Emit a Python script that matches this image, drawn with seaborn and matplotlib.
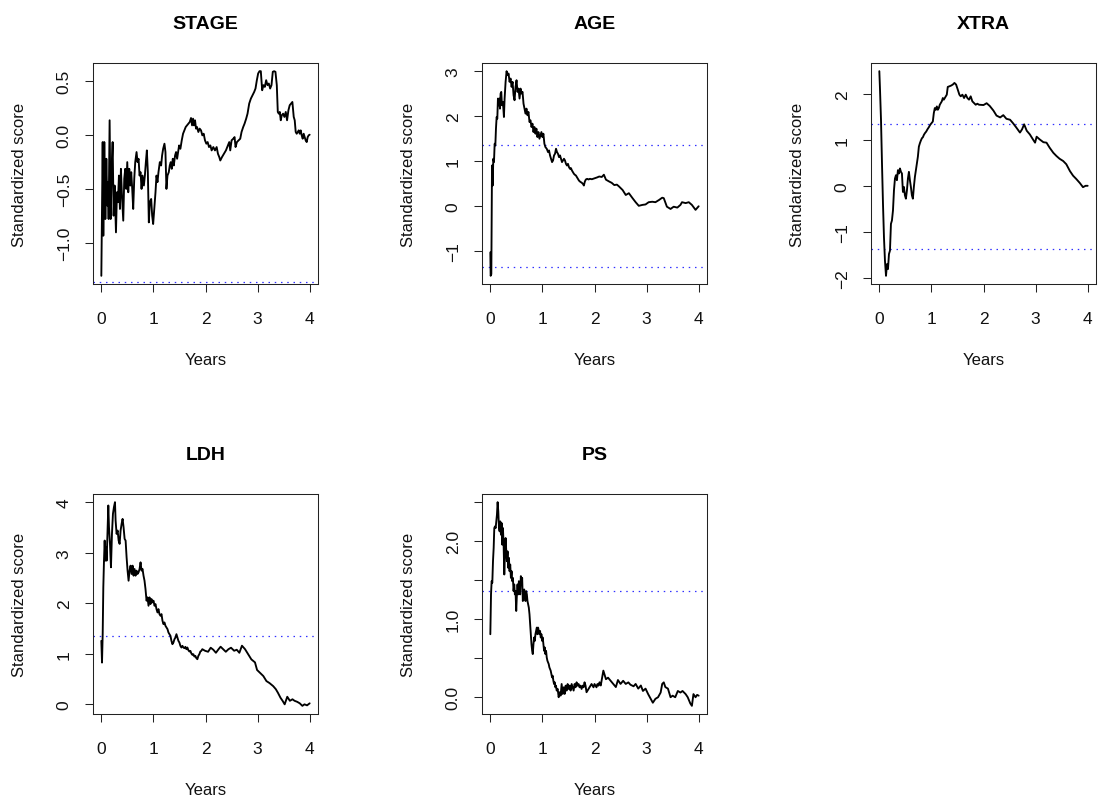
import matplotlib
matplotlib.use("Agg")
import matplotlib.pyplot as plt
import seaborn as sns
import pandas as pd

# ---------------- data ----------------
panel_titles = ["STAGE", "AGE", "XTRA", "LDH", "PS"]
crit_value = 1.358

stage_t = [0.000,0.026,0.038,0.057,0.077,0.096,0.115,0.128,0.140,0.159,
           0.179,0.198,0.217,0.236,0.255,0.281,0.300,0.319,0.338,0.357,
           0.376,0.396,0.421,0.440,0.459,0.478,0.498,0.517,0.536,0.555,
           0.574,0.593,0.612,0.632,0.651,0.676,0.695,0.715,0.734,0.753,
           0.772,0.791,0.817,0.836,0.855,0.874,0.893,0.912,0.931,0.957,
           0.976,0.995,1.021,1.040,1.059,1.078,1.097,1.123,1.148,1.167,
           1.187,1.212,1.231,1.250,1.270,1.295,1.314,1.333,1.352,1.372,
           1.391,1.416,1.435,1.455,1.474,1.493,1.518,1.544,1.569,1.595,
           1.620,1.646,1.671,1.697,1.722,1.742,1.761,1.780,1.799,1.818,
           1.837,1.863,1.888,1.914,1.939,1.965,1.990,2.016,2.041,2.067,
           2.093,2.118,2.150,2.182,2.214,2.239,2.265,2.284,2.316,2.354,
           2.392,2.431,2.456,2.475,2.501,2.533,2.558,2.577,2.603,2.635,
           2.667,2.692,2.724,2.750,2.781,2.807,2.839,2.871,2.903,2.935,
           2.960,2.986,3.011,3.037,3.062,3.088,3.113,3.139,3.165,3.190,
           3.216,3.241,3.267,3.292,3.317,3.343,3.369,3.388,3.407,3.426,
           3.445,3.464,3.490,3.515,3.541,3.566,3.592,3.617,3.643,3.668,
           3.694,3.713,3.732,3.751,3.770,3.790,3.809,3.828,3.847,3.866,
           3.885,3.904,3.923,3.943,3.962,3.981,4.000]
stage_v = [-1.302,-0.068,-0.932,-0.068,-0.778,-0.222,-0.654,-0.438,-0.778,0.133,
           -0.778,-0.315,-0.068,-0.747,-0.469,-0.901,-0.531,-0.623,-0.377,-0.685,
           -0.315,-0.562,-0.793,-0.407,-0.315,-0.500,-0.253,-0.531,-0.315,-0.469,
           -0.346,-0.500,-0.685,-0.407,-0.253,-0.160,-0.253,-0.222,-0.377,-0.346,
           -0.500,-0.377,-0.469,-0.377,-0.253,-0.145,-0.346,-0.809,-0.623,-0.593,
           -0.747,-0.824,-0.654,-0.531,-0.377,-0.438,-0.346,-0.253,-0.284,-0.191,
           -0.130,-0.083,-0.160,-0.500,-0.377,-0.346,-0.284,-0.253,-0.315,-0.222,
           -0.284,-0.191,-0.160,-0.222,-0.160,-0.099,-0.130,-0.052,0.009,0.040,
           0.071,0.086,0.102,0.117,0.154,0.086,0.148,0.086,0.133,0.056,
           0.071,0.025,0.056,0.040,-0.006,0.009,-0.052,-0.083,-0.068,-0.114,
           -0.099,-0.145,-0.114,-0.145,-0.114,-0.176,-0.207,-0.238,-0.207,-0.176,
           -0.145,-0.099,-0.068,-0.145,-0.052,-0.037,-0.022,-0.114,-0.068,-0.052,
           -0.037,0.025,0.071,0.102,0.148,0.194,0.287,0.333,0.364,0.395,
           0.426,0.503,0.565,0.586,0.586,0.410,0.457,0.441,0.503,0.457,
           0.472,0.426,0.457,0.580,0.586,0.580,0.457,0.210,0.194,0.210,
           0.133,0.179,0.194,0.164,0.210,0.133,0.225,0.272,0.287,0.302,
           0.164,0.133,0.025,0.009,0.025,0.040,0.009,0.040,-0.006,-0.037,
           0.009,-0.022,-0.052,-0.068,-0.022,-0.006,0.000]

age_t = [0.000,0.006,0.019,0.032,0.045,0.057,0.070,0.083,0.096,0.108,
         0.121,0.134,0.146,0.159,0.172,0.185,0.197,0.210,0.223,0.242,
         0.261,0.274,0.293,0.312,0.331,0.350,0.369,0.389,0.408,0.427,
         0.446,0.465,0.484,0.503,0.522,0.541,0.561,0.580,0.599,0.618,
         0.637,0.656,0.675,0.694,0.713,0.732,0.752,0.771,0.790,0.809,
         0.828,0.847,0.866,0.885,0.904,0.924,0.943,0.962,0.981,1.000,
         1.019,1.038,1.057,1.083,1.108,1.127,1.146,1.166,1.185,1.204,
         1.223,1.242,1.261,1.280,1.299,1.318,1.338,1.357,1.376,1.395,
         1.414,1.433,1.452,1.471,1.490,1.510,1.529,1.548,1.567,1.586,
         1.605,1.624,1.643,1.662,1.682,1.701,1.720,1.739,1.758,1.777,
         1.796,1.815,1.834,1.860,1.885,1.911,1.950,2.000,2.050,2.090,
         2.140,2.180,2.220,2.280,2.330,2.380,2.430,2.470,2.540,2.600,
         2.660,2.730,2.790,2.850,2.920,2.980,3.040,3.110,3.170,3.240,
         3.300,3.330,3.390,3.460,3.520,3.590,3.650,3.680,3.750,3.810,
         3.870,3.940,4.000]
age_v = [-1.024,-1.544,-1.506,0.905,0.460,1.054,0.980,1.388,1.351,1.722,
         1.981,1.944,2.390,2.241,2.390,2.167,2.501,2.538,2.241,2.315,
         1.981,2.390,2.761,2.998,2.909,2.946,2.761,2.835,2.649,2.761,
         2.464,2.353,2.649,2.798,2.538,2.612,2.390,2.612,2.501,2.538,
         2.278,2.167,2.056,2.167,2.019,2.093,1.870,1.907,1.759,1.833,
         1.647,1.759,1.610,1.722,1.536,1.647,1.499,1.573,1.647,1.536,
         1.610,1.388,1.314,1.276,1.202,1.239,1.128,1.054,0.980,1.017,
         1.128,1.165,1.276,1.202,1.165,1.091,1.128,1.054,0.980,1.017,
         1.054,1.017,0.942,0.905,0.942,0.868,0.831,0.846,0.794,0.757,
         0.720,0.698,0.683,0.646,0.609,0.571,0.549,0.534,0.519,0.497,
         0.460,0.549,0.594,0.609,0.594,0.609,0.600,0.620,0.640,0.660,
         0.650,0.700,0.590,0.550,0.520,0.470,0.480,0.440,0.360,0.250,
         0.290,0.180,0.090,0.010,0.030,0.040,0.090,0.100,0.090,0.140,
         0.190,0.180,-0.010,-0.060,-0.010,-0.030,0.030,0.090,0.070,0.090,
         0.030,-0.080,0.000]

xtra_t = [0.000,0.013,0.032,0.051,0.070,0.089,0.108,0.128,0.147,0.166,
          0.185,0.204,0.223,0.242,0.262,0.281,0.300,0.319,0.338,0.357,
          0.376,0.396,0.415,0.434,0.453,0.472,0.491,0.510,0.530,0.549,
          0.568,0.587,0.606,0.625,0.644,0.663,0.683,0.702,0.721,0.740,
          0.759,0.778,0.797,0.817,0.836,0.855,0.874,0.900,0.925,0.951,
          0.976,1.002,1.027,1.046,1.065,1.085,1.104,1.123,1.142,1.161,
          1.180,1.199,1.219,1.238,1.257,1.276,1.295,1.314,1.346,1.378,
          1.410,1.442,1.474,1.506,1.537,1.563,1.595,1.627,1.659,1.691,
          1.722,1.754,1.786,1.818,1.850,1.882,1.914,2.000,2.060,2.120,
          2.190,2.250,2.320,2.380,2.440,2.510,2.570,2.630,2.700,2.740,
          2.780,2.830,2.890,2.950,2.990,3.020,3.080,3.150,3.210,3.270,
          3.340,3.400,3.460,3.530,3.590,3.660,3.720,3.780,3.850,3.910,
          3.960,4.000]
xtra_v = [2.508,2.106,1.448,0.497,-0.380,-1.112,-1.623,-1.952,-1.697,-1.806,
          -1.477,-1.404,-0.819,-0.746,-0.527,-0.088,0.168,0.241,0.132,0.351,
          0.278,0.388,0.314,0.278,-0.124,-0.015,-0.197,-0.271,-0.088,0.168,
          0.314,0.132,-0.015,-0.197,-0.271,-0.015,0.205,0.351,0.497,0.644,
          0.863,0.936,0.995,1.046,1.068,1.119,1.155,1.192,1.243,1.287,
          1.338,1.375,1.411,1.594,1.704,1.667,1.740,1.667,1.704,1.777,
          1.814,1.850,1.923,1.887,1.923,1.960,1.996,2.165,2.179,2.194,
          2.216,2.252,2.216,2.106,1.996,1.960,1.996,1.923,1.996,1.923,
          1.887,1.960,1.850,1.814,1.777,1.799,1.777,1.770,1.810,1.750,
          1.650,1.540,1.500,1.550,1.470,1.450,1.370,1.280,1.170,1.240,
          1.350,1.210,1.130,1.020,0.950,1.080,1.020,0.960,0.950,0.840,
          0.730,0.660,0.600,0.550,0.480,0.330,0.230,0.160,0.070,-0.020,
          0.010,0.010]

ldh_t = [0.000,0.013,0.026,0.038,0.051,0.064,0.077,0.089,0.102,0.121,
         0.134,0.147,0.166,0.185,0.204,0.223,0.242,0.262,0.274,0.293,
         0.313,0.332,0.351,0.370,0.389,0.408,0.427,0.447,0.466,0.485,
         0.504,0.523,0.542,0.561,0.581,0.600,0.619,0.638,0.657,0.676,
         0.695,0.715,0.734,0.753,0.772,0.791,0.810,0.829,0.848,0.868,
         0.887,0.906,0.925,0.944,0.963,0.982,1.002,1.021,1.040,1.059,
         1.078,1.097,1.116,1.136,1.155,1.174,1.193,1.212,1.231,1.250,
         1.270,1.289,1.308,1.327,1.346,1.365,1.384,1.404,1.423,1.442,
         1.461,1.480,1.499,1.518,1.537,1.557,1.576,1.595,1.614,1.633,
         1.652,1.671,1.691,1.710,1.729,1.748,1.767,1.786,1.805,1.825,
         1.844,1.863,1.882,1.901,1.920,1.939,1.990,2.050,2.100,2.150,
         2.200,2.250,2.290,2.340,2.390,2.440,2.490,2.550,2.600,2.650,
         2.700,2.760,2.820,2.880,2.950,2.990,3.040,3.110,3.170,3.230,
         3.300,3.350,3.390,3.440,3.480,3.520,3.570,3.620,3.670,3.710,
         3.760,3.810,3.860,3.900,3.950,4.000]
ldh_v = [1.256,0.826,1.388,2.314,2.843,3.240,2.843,3.107,2.843,3.504,
         3.934,3.504,3.174,2.711,3.372,3.769,3.901,4.000,3.636,3.372,
         3.438,3.240,3.174,3.438,3.570,3.669,3.504,3.273,3.240,2.909,
         2.645,2.446,2.645,2.744,2.579,2.744,2.545,2.678,2.545,2.645,
         2.579,2.612,2.678,2.810,2.645,2.678,2.545,2.446,2.281,2.050,
         2.116,1.950,2.116,1.983,2.083,2.017,2.050,1.950,1.983,1.884,
         1.818,1.884,1.785,1.752,1.785,1.653,1.587,1.620,1.554,1.521,
         1.488,1.421,1.388,1.355,1.256,1.190,1.223,1.289,1.322,1.388,
         1.322,1.256,1.223,1.157,1.124,1.157,1.124,1.111,1.137,1.091,
         1.124,1.071,1.045,1.058,1.005,0.979,0.992,0.945,0.959,0.912,
         0.893,0.959,0.992,1.045,1.058,1.091,1.060,1.040,1.120,1.080,
         1.020,1.090,1.140,1.090,1.040,1.090,1.120,1.060,1.080,1.020,
         1.160,1.090,0.990,0.890,0.830,0.680,0.630,0.560,0.460,0.420,
         0.360,0.300,0.230,0.130,0.070,0.000,0.150,0.070,0.100,0.070,
         0.050,0.020,-0.030,0.000,-0.020,0.020]

ps_t = [0.000,0.013,0.025,0.038,0.051,0.064,0.076,0.089,0.102,0.115,
        0.127,0.140,0.153,0.166,0.178,0.191,0.204,0.217,0.229,0.242,
        0.255,0.268,0.280,0.293,0.306,0.318,0.331,0.344,0.357,0.369,
        0.382,0.395,0.408,0.420,0.433,0.446,0.459,0.471,0.484,0.497,
        0.510,0.522,0.535,0.548,0.561,0.573,0.586,0.599,0.611,0.624,
        0.637,0.650,0.662,0.675,0.688,0.701,0.713,0.726,0.739,0.752,
        0.764,0.777,0.790,0.803,0.815,0.828,0.841,0.854,0.866,0.879,
        0.892,0.904,0.917,0.930,0.943,0.955,0.968,0.981,0.994,1.006,
        1.019,1.032,1.045,1.057,1.070,1.083,1.096,1.121,1.134,1.146,
        1.159,1.172,1.185,1.197,1.210,1.223,1.236,1.248,1.261,1.274,
        1.293,1.312,1.331,1.350,1.369,1.389,1.408,1.427,1.446,1.465,
        1.484,1.503,1.522,1.541,1.561,1.580,1.599,1.618,1.637,1.656,
        1.675,1.694,1.713,1.732,1.752,1.771,1.790,1.809,1.828,1.847,
        1.866,1.885,1.904,1.924,1.943,1.962,1.981,2.000,2.019,2.038,
        2.057,2.076,2.096,2.120,2.170,2.220,2.260,2.310,2.360,2.410,
        2.450,2.500,2.550,2.600,2.650,2.690,2.750,2.790,2.840,2.890,
        2.930,2.980,3.030,3.080,3.120,3.170,3.220,3.270,3.300,3.330,
        3.360,3.410,3.460,3.500,3.550,3.600,3.650,3.690,3.750,3.790,
        3.840,3.870,3.900,3.940,3.970,4.000]
ps_v = [0.805,1.314,1.483,1.462,1.737,1.907,2.161,2.182,2.161,2.246,
        2.331,2.492,2.373,2.161,2.119,2.246,2.076,2.225,1.949,2.161,
        1.949,1.568,1.822,2.034,1.864,1.737,1.864,1.653,1.780,1.610,
        1.695,1.525,1.610,1.483,1.525,1.356,1.441,1.314,1.356,1.102,
        1.314,1.441,1.314,1.483,1.441,1.314,1.547,1.441,1.525,1.229,
        1.314,1.377,1.314,1.229,1.356,1.314,1.229,1.186,1.144,1.059,
        0.932,0.805,0.678,0.593,0.551,0.678,0.763,0.720,0.805,0.847,
        0.890,0.805,0.890,0.847,0.805,0.847,0.763,0.805,0.720,0.763,
        0.678,0.593,0.636,0.551,0.593,0.508,0.466,0.424,0.381,0.360,
        0.339,0.297,0.254,0.275,0.212,0.169,0.191,0.127,0.148,0.085,
        0.106,0.000,0.064,0.021,0.169,0.042,0.127,0.042,0.148,0.085,
        0.169,0.106,0.148,0.085,0.169,0.127,0.085,0.169,0.127,0.191,
        0.148,0.169,0.127,0.148,0.106,0.148,0.127,0.191,0.148,0.064,
        0.085,0.106,0.127,0.148,0.169,0.148,0.127,0.169,0.148,0.127,
        0.169,0.148,0.191,0.150,0.340,0.230,0.250,0.210,0.170,0.130,
        0.220,0.170,0.210,0.170,0.190,0.160,0.140,0.170,0.110,0.150,
        0.080,0.110,0.040,-0.020,-0.070,-0.020,0.000,0.060,0.170,0.190,
        0.130,0.110,0.000,0.020,0.000,0.080,0.060,0.080,0.040,0.000,
        -0.080,-0.110,0.040,0.000,0.030,0.020]

x_ticks = [0, 1, 2, 3, 4]
x_tick_labels = ["0", "1", "2", "3", "4"]
stage_yticks = [-1.0, -0.5, 0.0, 0.5]
stage_ylabels = ["\u22121.0", "\u22120.5", "0.0", "0.5"]
age_yticks = [-1, 0, 1, 2, 3]
age_ylabels = ["\u22121", "0", "1", "2", "3"]
xtra_yticks = [-2, -1, 0, 1, 2]
xtra_ylabels = ["\u22122", "\u22121", "0", "1", "2"]
ldh_yticks = [0, 1, 2, 3, 4]
ldh_ylabels = ["0", "1", "2", "3", "4"]
ps_yticks = [0.0, 0.5, 1.0, 1.5, 2.0, 2.5]
ps_ylabels = ["0.0", "", "1.0", "", "2.0", ""]

x_label = "Years"
y_label = "Standardized score"

# ---------------- styling ----------------
sns.set_theme(style="white")
plt.rcParams["font.family"] = ["Liberation Sans", "DejaVu Sans"]
plt.rcParams["axes.unicode_minus"] = True

W, H = 1098, 804
fig = plt.figure(figsize=(W / 100, H / 100), dpi=100)
fig.patch.set_facecolor("white")

# axes boxes in pixels: (left, top, width, height)
boxes = [(93, 64, 225, 221), (482, 64, 225, 221), (871, 64, 225, 221),
         (93, 495, 225, 220), (482, 495, 225, 220)]

series = [(stage_t, stage_v, stage_yticks, stage_ylabels),
          (age_t, age_v, age_yticks, age_ylabels),
          (xtra_t, xtra_v, xtra_yticks, xtra_ylabels),
          (ldh_t, ldh_v, ldh_yticks, ldh_ylabels),
          (ps_t, ps_v, ps_yticks, ps_ylabels)]

for title, (l, t, w, h), (ts, vs, yt, yl) in zip(panel_titles, boxes, series):
    ax = fig.add_axes([l / W, (H - t - h) / H, w / W, h / H])
    df = pd.DataFrame({"Years": ts, "score": vs})
    sns.lineplot(data=df, x="Years", y="score", ax=ax, color="black",
                 linewidth=1.35, estimator=None, sort=False)
    lo, hi = min(vs), max(vs)
    pad = 0.04 * (hi - lo)
    x0, x1 = min(ts), max(ts)
    xpad = 0.04 * (x1 - x0)
    for c in (crit_value, -crit_value):
        ax.axhline(c, color="#3030ff", linewidth=0.9,
                   linestyle=(0, (1.2, 3.8)), zorder=1)
    ax.set_xlim(x0 - xpad, x1 + xpad)
    ax.set_ylim(lo - pad, hi + pad)

    ax.set_xticks(x_ticks)
    ax.set_xticklabels(x_tick_labels)
    ax.set_yticks(yt)
    ax.set_yticklabels(yl, rotation=90, va="center")
    ax.tick_params(axis="both", direction="out", length=5.8, width=0.75,
                   color="#222222", labelsize=12.5, labelcolor="#111111")
    ax.tick_params(axis="x", pad=13.5, bottom=True)
    ax.tick_params(axis="y", pad=9.5, left=True)
    for sp in ax.spines.values():
        sp.set_visible(True)
        sp.set_color("#222222")
        sp.set_linewidth(0.75)

    ax.set_title(title, fontsize=14, fontweight="bold", pad=25.5, color="black")
    ax.set_xlabel(x_label, fontsize=12, color="#111111")
    ax.set_ylabel(y_label, fontsize=12, color="#111111")
    ax.xaxis.set_label_coords(0.5, -(353 - 285) / 221 if t < 300 else -(353 - 285) / 220)
    ax.yaxis.set_label_coords(-66 / 225, 0.5)
    ax.grid(False)

fig.savefig("out.png", dpi=100, facecolor="white")
